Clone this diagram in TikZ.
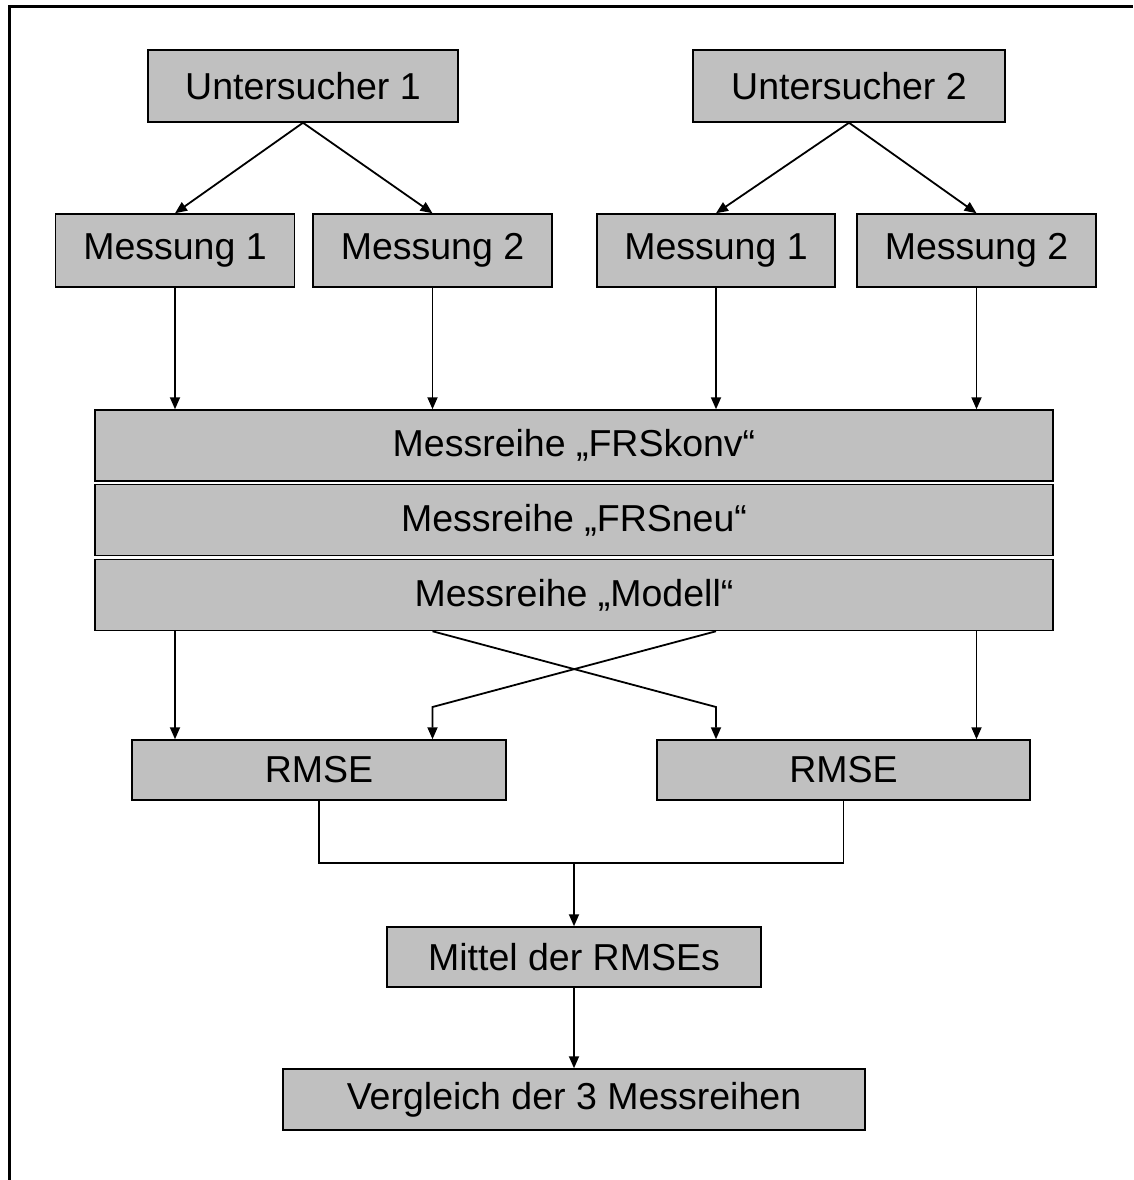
\documentclass[tikz,border=0pt]{standalone}
\usepackage{fontspec}
\setmainfont{Liberation Sans}
\usepackage{xcolor}
\usepackage{tikz}
\usetikzlibrary{arrows.meta,positioning,calc}
\definecolor{boxgray}{HTML}{C0C0C0}
\definecolor{ink}{HTML}{000000}

\begin{document}
\begin{tikzpicture}[
  x=1pt, y=-1pt,
  box/.style={draw=ink, line width=1.5pt, fill=boxgray, inner sep=0pt, align=center, font=\fontsize{37.5}{44}\selectfont},
  arrow/.style={-{Triangle[length=12pt,width=10pt]}, line width=1.8pt, draw=ink},
  link/.style={line width=1.8pt, draw=ink}
]
\useasboundingbox (0,0) rectangle (1133,1180);
\draw[line width=3pt] (9,1180) -- (9,7) -- (1133,7);

\node[box, minimum width=310pt, minimum height=72pt] (u1) at (303,86) {Untersucher 1};
\node[box, minimum width=312pt, minimum height=72pt] (u2) at (849,86) {Untersucher 2};
\node[box, minimum width=239pt, minimum height=73pt] (m11) at (175,250.5) {Messung 1};
\node[box, minimum width=239pt, minimum height=73pt] (m12) at (432.5,250.5) {Messung 2};
\node[box, minimum width=238pt, minimum height=73pt] (m21) at (716,250.5) {Messung 1};
\node[box, minimum width=239pt, minimum height=73pt] (m22) at (976.5,250.5) {Messung 2};
\node[box, minimum width=958pt, minimum height=71pt] (rkonv) at (574,445.5) {Messreihe „FRSkonv“};
\node[box, minimum width=958pt, minimum height=71pt] (rneu) at (574,520) {Messreihe „FRSneu“};
\node[box, minimum width=958pt, minimum height=71pt] (rmod) at (574,595) {Messreihe „Modell“};
\node[box, minimum width=374pt, minimum height=60pt] (rmse1) at (319,770) {RMSE};
\node[box, minimum width=373pt, minimum height=60pt] (rmse2) at (843.5,770) {RMSE};
\node[box, minimum width=374pt, minimum height=60pt] (mittel) at (574,957) {Mittel der RMSEs};
\node[box, minimum width=582pt, minimum height=61pt] (vergl) at (574,1099.5) {Vergleich der 3 Messreihen};

\coordinate (k1) at (m12.south |- 0,707);
\coordinate (k2) at (m21.south |- 0,707);
\coordinate (j) at (mittel.north |- 0,863);

\draw[arrow] (u1.south) -- (m11.north);
\draw[arrow] (u1.south) -- (m12.north);
\draw[arrow] (u2.south) -- (m21.north);
\draw[arrow] (u2.south) -- (m22.north);
\foreach \m in {m11,m12,m21,m22}
  \draw[arrow] (\m.south) -- (\m.south |- rkonv.north);

\draw[arrow] (m11.south |- rmod.south) -- (m11.south |- rmse1.north);
\draw[arrow] (m22.south |- rmod.south) -- (m22.south |- rmse2.north);
\draw[arrow] (m12.south |- rmod.south) -- (k2) -- (k2 |- rmse2.north);
\draw[arrow] (m21.south |- rmod.south) -- (k1) -- (k1 |- rmse1.north);

\draw[link] (rmse1.south) -- (rmse1.south |- j) -- (rmse2.south |- j) -- (rmse2.south);
\draw[arrow] (j) -- (mittel.north);
\draw[arrow] (mittel) -- (vergl);
\end{tikzpicture}
\end{document}
